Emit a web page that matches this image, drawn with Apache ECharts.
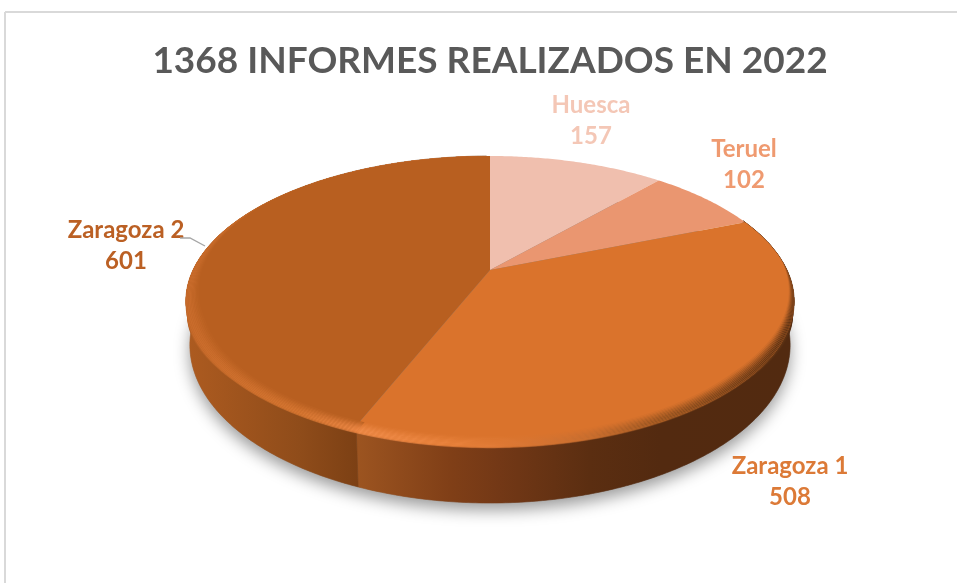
<!DOCTYPE html>
<html><head><meta charset="utf-8">
<style>html,body{margin:0;padding:0;background:#fff}#c{width:957px;height:583px}</style>
<script src="https://cdn.jsdelivr.net/npm/echarts@6/dist/echarts.min.js"></script>
</head><body><div id="c"></div>
<script>
const categories = ['Huesca', 'Teruel', 'Zaragoza 1', 'Zaragoza 2'];
const values = [157, 102, 508, 601];
const titleText = '1368 INFORMES REALIZADOS EN 2022';

const faceColors = ['#f0bfae', '#ea9670', '#da732c', '#b85f20'];
const labelColors = ['#f4c7b6', '#ef9a70', '#dc7a37', '#bb6024'];
const labelCentres = [[591, 121], [744, 165], [790, 482], [126, 246]];
const leader = [[180, 238], [190, 238], [205, 246]];
const sideStops = [null, null,
  [[358,'#9c5420'],[450,'#803f17'],[500,'#733816'],[590,'#5b2e11'],[660,'#532a10'],[794,'#522a10']],
  [[186,'#ad5b20'],[300,'#8f4c1a'],[358,'#7c4014']]];
const rimStops = [null, null,
  [[358,'#f08c4a'],[450,'#e9823c'],[500,'#e07a36'],[590,'#c56c2e'],[660,'#96531f'],[794,'#5a3012']],
  [[186,'#c96b2b'],[300,'#d67631'],[358,'#ec8745']]];

// Perspective projection of the disc
const top_ = {cx:490, cy:270, R:297, S:138.7, p:0.2165};
const bot_ = {cx:490, cy:310.8, R:293, S:150.6, p:0.2165};
const wallShift = 0.8*Math.PI/180;
function proj(g, t, s){
  const u = s*Math.sin(t), v = s*Math.cos(t), d = 1 + g.p*v;
  return [g.cx + g.R*u/d, g.cy - g.S*v/d];
}
function lerpPt(a,b,f){return [a[0]+(b[0]-a[0])*f, a[1]+(b[1]-a[1])*f];}
const total = values.reduce((a,b)=>a+b,0);
function range(i){
  let a = 0; for(let k=0;k<i;k++) a += values[k];
  return [a/total*2*Math.PI, (a+values[i])/total*2*Math.PI];
}
function samples(a,b){
  const n = Math.max(4, Math.ceil((b-a)/0.01)), out=[];
  for(let i=0;i<=n;i++) out.push(a+(b-a)*i/n);
  return out;
}
function hex(c){return [1,3,5].map(i=>parseInt(c.substr(i,2),16));}
function mix(a,b,f){const x=hex(a),y=hex(b);return 'rgb('+x.map((v,i)=>Math.round(v+(y[i]-v)*f)).join(',')+')';}
function grad(stops, other, f){
  const x0=stops[0][0], x1=stops[stops.length-1][0];
  return new echarts.graphic.LinearGradient(x0,0,x1,0,
    stops.map((s,j)=>{
      let c=s[1];
      if(other){ const o=Array.isArray(other)?other[Math.min(j,other.length-1)][1]:other; c=mix(s[1],o,f); }
      return {offset:(s[0]-x0)/(x1-x0), color:c};
    }), true);
}
function taper(t){
  const v=Math.cos(t);
  const base = Math.sin(t)>0 ? (0.08-v)/0.75 : (0.55-v)/0.9;
  return Math.max(0.0,Math.min(1,base));
}
const rimFracs = [0.1,0.0,0.03,0.1,0.2,0.33,0.47,0.62,0.78,0.91];
const rimWidth = 0.05;
const lowerBevel = [[0.09,0.0],[0.17,0.25],[0.25,0.55],[0.33,0.82]];

// side colour looked up at each rim stop's x, so both gradients share stops
function resample(side, rim){
  return rim.map(r=>{
    let best=side[0];
    side.forEach(s=>{ if(Math.abs(s[0]-r[0])<Math.abs(best[0]-r[0])) best=s; });
    return [r[0],best[1]];
  });
}

function renderItem(params, api){
  const i = params.dataIndex;
  const [a0,b0] = range(i);
  const ts = samples(a0,b0);
  const ws = samples(a0-wallShift,b0-wallShift);
  const children = [];
  if(i===0){
    const all = samples(0,2*Math.PI).map(t=>proj(bot_,t,1));
    children.push({type:'polygon',z2:0,shape:{points:all},
      style:{fill:'#8a8a8a',shadowBlur:16,shadowColor:'rgba(0,0,0,0.40)',shadowOffsetY:7,shadowOffsetX:0}});
  }
  if(sideStops[i]){
    const pts = ws.map(t=>proj(top_,t,1)).concat(ws.slice().reverse().map(t=>proj(bot_,t,1)));
    children.push({type:'polygon',z2:1,shape:{points:pts},style:{fill:grad(sideStops[i]),stroke:grad(sideStops[i]),lineWidth:0.6}});
    const sideAtRim = resample(sideStops[i],rimStops[i]);
    lowerBevel.slice().reverse().forEach((b,k)=>{
      const upper = ws.map(t=>proj(top_,t,1));
      const lower = ws.slice().reverse().map(t=>{
        const w=Math.max(0.08,Math.pow(Math.abs(Math.sin(t)),8));
        return lerpPt(proj(top_,t,1),proj(bot_,t,1),b[0]*w);
      });
      children.push({type:'polygon',z2:2+k*0.1,shape:{points:upper.concat(lower)},
        style:{fill:grad(rimStops[i],sideAtRim,b[1])}});
    });
  }
  const face = [[top_.cx,top_.cy]].concat(ts.map(t=>proj(top_,t,1)));
  children.push({type:'polygon',z2:3,shape:{points:face},style:{fill:faceColors[i]}});
  if(rimStops[i]){
    const n=rimFracs.length;
    rimFracs.forEach((f,k)=>{
      const s0=t=>1-rimWidth*taper(t)*k/n, s1=t=>1-rimWidth*taper(t)*(k+1)/n;
      const pts = ws.map(t=>proj(top_,t,s0(t))).concat(ws.slice().reverse().map(t=>proj(top_,t,s1(t))));
      children.push({type:'polygon',z2:4,shape:{points:pts},style:{fill:grad(rimStops[i],faceColors[i],f)}});
    });
  }
  children.push({type:'text',z2:10,style:{
    text: categories[i]+'\n'+api.value(1),
    x:labelCentres[i][0], y:labelCentres[i][1], align:'center', verticalAlign:'middle',
    fill:labelColors[i], font:'bold 24px Lato', lineHeight:31}});
  return {type:'group',children};
}

const chart = echarts.init(document.getElementById('c'));
chart.setOption({
  animation:false,
  backgroundColor:'#ffffff',
  title:{text:titleText,left:485,top:38,textAlign:'center',
    textStyle:{color:'#595959',fontFamily:'Lato',fontWeight:'bold',fontSize:37}},
  graphic:[
    {type:'line',shape:{x1:5,y1:12,x2:957,y2:12},style:{stroke:'#d9d9d9',lineWidth:2}},
    {type:'line',shape:{x1:5,y1:12,x2:5,y2:583},style:{stroke:'#d9d9d9',lineWidth:2}},
    {type:'polyline',z:5,shape:{points:leader},style:{stroke:'#a6a6a6',lineWidth:1.4,fill:null}}
  ],
  series:[{type:'custom',coordinateSystem:'none',silent:true,renderItem,
    data:categories.map((c,i)=>[i,values[i]])}]
});
</script></body></html>
